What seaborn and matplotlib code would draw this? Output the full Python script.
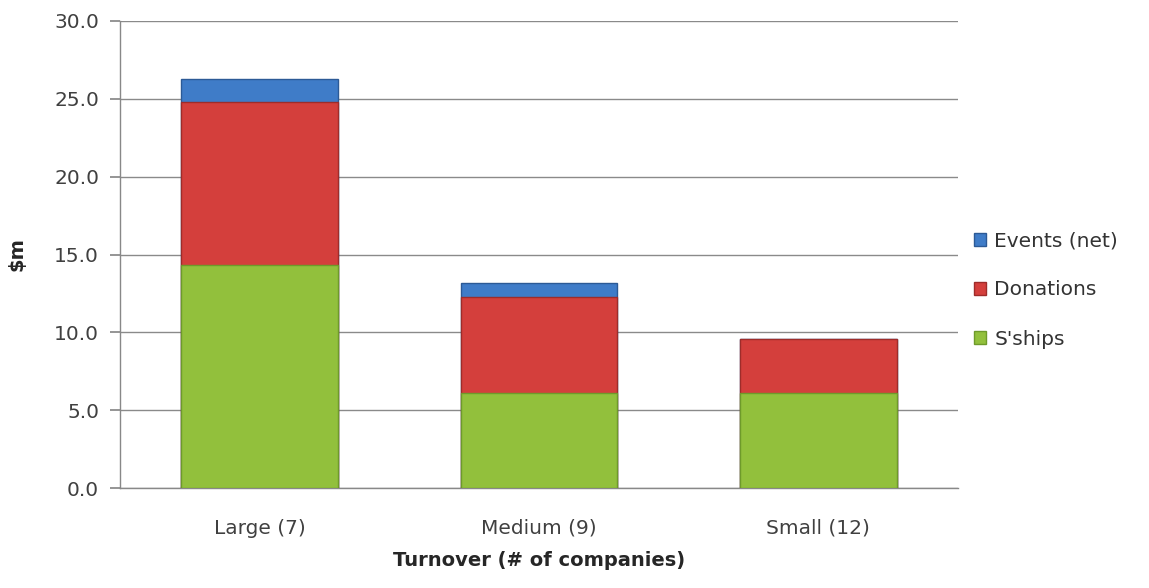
import matplotlib
matplotlib.use("Agg")
import matplotlib.pyplot as plt
import seaborn as sns
import numpy as np
import pandas as pd
from matplotlib.patches import Patch

categories = ["Large (7)", "Medium (9)", "Small (12)"]
sships = [14.3, 6.1, 6.1]
donations = [10.5, 6.2, 3.5]
events = [1.5, 0.9, 0.0]
series_names = ["S'ships", "Donations", "Events (net)"]
colors = {"S'ships": "#92C03C", "Donations": "#D43F3C", "Events (net)": "#3F7CC8"}
edges = {"S'ships": "#6E9A2A", "Donations": "#9E2C2A", "Events (net)": "#2C5A96"}

sns.set_theme(style="white")
plt.rcParams["font.family"] = ["DejaVu Sans"]

df = pd.DataFrame({"cat": categories, "S'ships": sships,
                   "Donations": donations, "Events (net)": events})
cum = df[series_names].cumsum(axis=1)

fig = plt.figure(figsize=(11.49, 5.88), dpi=100)
ax = fig.add_axes([120 / 1149, 1 - 488 / 588, 838 / 1149, 467 / 588])

# draw cumulative totals from the top segment down so each layer overlays the previous
for name in reversed(series_names):
    sns.barplot(x=df["cat"], y=cum[name], color=colors[name], ax=ax,
                width=0.56, edgecolor=edges[name], linewidth=1.0,
                saturation=1, zorder=3)

ax.set_ylim(0, 30)
ax.set_xlim(-0.5, 2.5)
ax.set_yticks(np.arange(0, 30.1, 5))
ax.set_yticklabels([f"{v:.1f}" for v in np.arange(0, 30.1, 5)], fontsize=14.5, color="#404040")
ax.set_xticks(range(3))
ax.set_xticklabels(categories, fontsize=14.5, color="#404040")
ax.set_xticks([-0.5, 0.5, 1.5, 2.5], minor=True)
ax.tick_params(axis="x", which="major", length=0, pad=22)
ax.tick_params(axis="x", which="minor", length=7, color="#888888", direction="out")
ax.tick_params(axis="y", length=7, color="#888888", direction="out", left=True, pad=8)

ax.grid(axis="y", color="#8A8A8A", linewidth=1.0, zorder=0)
ax.set_axisbelow(True)
for s in ["top", "right"]:
    ax.spines[s].set_visible(False)
for s in ["left", "bottom"]:
    ax.spines[s].set_color("#888888")
    ax.spines[s].set_linewidth(1.0)

ax.set_ylabel("$m", fontsize=14, fontweight="bold", labelpad=20)
ax.set_xlabel("Turnover (# of companies)", fontsize=14, fontweight="bold", labelpad=10)

handles = [Patch(facecolor=colors[n], edgecolor=edges[n], label=n) for n in reversed(series_names)]
fig.legend(handles=handles, loc="center left", bbox_to_anchor=(956 / 1149, 1 - 290 / 588),
           frameon=False, fontsize=14.5, handlelength=0.6, handleheight=0.6,
           handletextpad=0.4, labelspacing=1.5, labelcolor="#333333")

fig.savefig("out.png", dpi=100)
